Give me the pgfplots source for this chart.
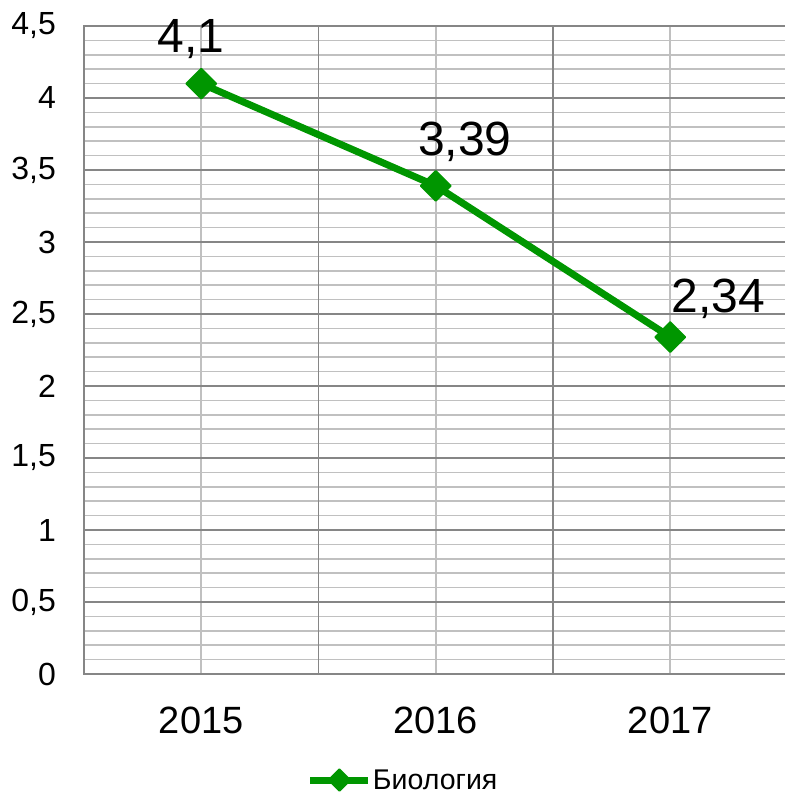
\documentclass[border=0pt]{standalone}
\usepackage{pgfplots}
\pgfplotsset{compat=1.18}
\usepackage{fontspec}
\setmainfont{Liberation Sans}
\definecolor{lgreen}{RGB}{0,150,0}
\definecolor{majgrid}{RGB}{134,134,134}
\definecolor{mingrid}{RGB}{192,192,192}
\pgfplotstableread{
x y dx dy
0 4.1 -10 31
1 3.39 29 30
2 2.34 48 25
}\datatable
\begin{document}
\begin{tikzpicture}
\begin{axis}[
  scale only axis, width=703.5pt, height=648pt,
  xmin=-0.5, xmax=2.5, ymin=0, ymax=4.5,
  xtick={0,1,2}, xticklabels={2015,2016,2017},
  ytick={0,0.5,1,1.5,2,2.5,3,3.5,4,4.5},
  minor y tick num=4,
  extra x ticks={0.5,1.5}, extra x tick labels={},
  extra x tick style={major x grid style={draw=majgrid, line width=1.8pt}},
  xmajorgrids, ymajorgrids, yminorgrids,
  major x grid style={draw=mingrid, line width=1.6pt},
  major y grid style={draw=majgrid, line width=1.8pt},
  minor y grid style={draw=mingrid, line width=1.6pt},
  major tick length=0pt, minor tick length=0pt,
  axis line style={draw=majgrid, line width=1.8pt},
  /pgf/number format/assume math mode=true,
  /pgf/number format/use comma,
  /pgf/number format/1000 sep={},
  /pgf/number format/precision=2,
  yticklabel style={font=\fontsize{32}{36}\selectfont, anchor=east, inner sep=0pt, xshift=-28pt},
  xticklabel style={font=\fontsize{38}{42}\selectfont, anchor=north, inner sep=0pt, yshift=-33pt},
  legend style={at={(0.453,-0.1636)}, anchor=center, draw=none, fill=none,
    font=\fontsize{28.5}{34}\selectfont, inner sep=0pt, nodes={inner sep=1pt}},
  legend image code/.code={\draw[#1, mark size=7.5pt, mark repeat=2, mark phase=2] plot coordinates {(0pt,0pt) (29pt,0pt) (58pt,0pt)};},
]
\coordinate (SW) at (rel axis cs:0,0);
\coordinate (NE) at (rel axis cs:1,1);
\addplot[lgreen, line width=7pt, mark=square*, mark size=10.5pt,
  mark options={rotate=45, line width=2pt, solid, line join=round},
  nodes near coords,
  visualization depends on={\thisrow{dx} \as \dx},
  visualization depends on={\thisrow{dy} \as \dy},
  nodes near coords style={text=black, font=\fontsize{48}{52}\selectfont, anchor=base, inner sep=0pt, xshift=\dx pt, yshift=\dy pt},
] table[x=x, y=y] {\datatable};
\legend{Биология}
\end{axis}
\pgfresetboundingbox
\useasboundingbox ([xshift=-84pt,yshift=-121pt]SW) rectangle ([xshift=-3.5pt,yshift=26pt]NE);
\end{tikzpicture}
\end{document}
